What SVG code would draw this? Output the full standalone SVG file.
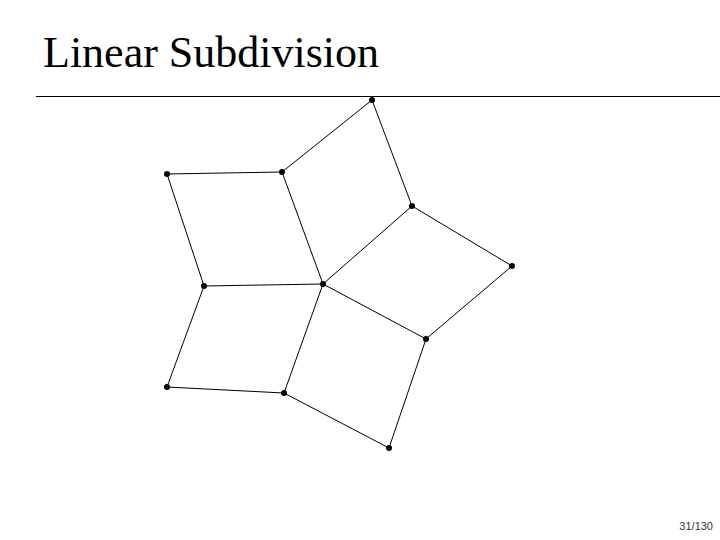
<svg xmlns="http://www.w3.org/2000/svg" width="720" height="540" viewBox="0 0 720 540">
<style>
.e{stroke:#000;stroke-width:1;fill:none}
.v{fill:#000}
.t{font-family:"Liberation Serif","Times New Roman",serif;font-size:44px;fill:#000}
.p{font-family:"Liberation Sans",Arial,sans-serif;font-size:11px;fill:#333}
</style>
<rect width="720" height="540" fill="#fff"/>
<text class="t" x="43" y="67">Linear Subdivision</text>
<line x1="36" y1="96.5" x2="720" y2="96.5" stroke="#000" stroke-width="1"/>
<g id="connectors">
<line class="e" x1="372" y1="100" x2="282" y2="172"/>
<line class="e" x1="372" y1="100" x2="412" y2="206"/>
<line class="e" x1="282" y1="172" x2="167" y2="174"/>
<line class="e" x1="167" y1="174" x2="204" y2="286"/>
<line class="e" x1="282" y1="172" x2="323" y2="284"/>
<line class="e" x1="412" y1="206" x2="323" y2="284"/>
<line class="e" x1="412" y1="206" x2="512" y2="266"/>
<line class="e" x1="512" y1="266" x2="426" y2="339"/>
<line class="e" x1="204" y1="286" x2="323" y2="284"/>
<line class="e" x1="323" y1="284" x2="426" y2="339"/>
<line class="e" x1="426" y1="339" x2="389" y2="448"/>
<line class="e" x1="389" y1="448" x2="284" y2="393"/>
<line class="e" x1="284" y1="393" x2="323" y2="284"/>
<line class="e" x1="204" y1="286" x2="167" y2="387"/>
<line class="e" x1="167" y1="387" x2="284" y2="393"/>
</g>
<g id="v1"><circle class="v" cx="372" cy="100" r="3"/></g>
<g id="v2"><circle class="v" cx="282" cy="172" r="3"/></g>
<g id="v3"><circle class="v" cx="167" cy="174" r="3"/></g>
<g id="v4"><circle class="v" cx="412" cy="206" r="3"/></g>
<g id="v5"><circle class="v" cx="512" cy="266" r="3"/></g>
<g id="v6"><circle class="v" cx="204" cy="286" r="3"/></g>
<g id="v7"><circle class="v" cx="323" cy="284" r="3"/></g>
<g id="v8"><circle class="v" cx="426" cy="339" r="3"/></g>
<g id="v9"><circle class="v" cx="167" cy="387" r="3"/></g>
<g id="v10"><circle class="v" cx="284" cy="393" r="3"/></g>
<g id="v11"><circle class="v" cx="389" cy="448" r="3"/></g>
<text class="p" x="713" y="530" text-anchor="end">31/130</text>
</svg>
